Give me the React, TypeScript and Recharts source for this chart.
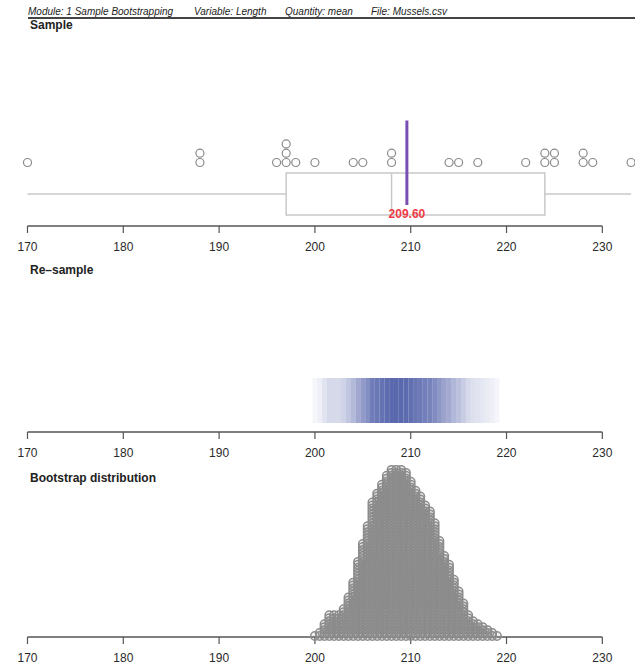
import React from 'react';
import { ScatterChart, Scatter, XAxis, YAxis, ReferenceLine, ReferenceArea } from 'recharts';

// header strings
const headerItems = ['Module: 1 Sample Bootstrapping', 'Variable: Length', 'Quantity: mean', 'File: Mussels.csv'];
const panelTitles = ['Sample', 'Re\u2013sample', 'Bootstrap distribution'];

// sample lengths (Mussels.csv)
const sampleLengths = [
  170, 188, 188, 196, 197, 197, 197, 198, 200, 204, 205, 208, 208,
  214, 215, 217, 222, 224, 224, 225, 225, 228, 228, 229, 233,
];

const axisTicks = [170, 180, 190, 200, 210, 220, 230];

// bootstrap means, binned: bin centre and how many means fall in it
const bootBins = [
  200, 200.5, 201, 201.5, 202, 202.5, 203, 203.5, 204, 204.5, 205, 205.5, 206, 206.5,
  207, 207.5, 208, 208.5, 209, 209.5, 210, 210.5, 211, 211.5, 212, 212.5, 213, 213.5,
  214, 214.5, 215, 215.5, 216, 216.5, 217, 217.5, 218, 218.5, 219,
];
const bootCounts = [
  1, 2, 5, 8, 8, 8, 10, 14, 19, 26, 32, 38, 46, 49,
  52, 55, 57, 57, 57, 56, 53, 50, 48, 45, 43, 39, 33, 28,
  25, 20, 16, 12, 8, 6, 5, 4, 3, 2, 1,
];

const FONT = '"Liberation Sans", Arial, Helvetica, sans-serif';
const W = 635;
const X_MIN = 167.13;
const X_MAX = 233.41;

// layout of the sample panel (y measured upward from the axis line)
const DOT_BASE = 63.5;
const DOT_STEP = 9.3;
const BOX_LO = 11;
const BOX_HI = 53;
const WHISKER_Y = 32;
const MEAN_LO = 21;
const MEAN_HI = 105.5;
const MEAN_LABEL_Y = 12.5;
// re-sample band
const BAND_LO = 9;
const BAND_HI = 54;

const sorted = [...sampleLengths].sort((a, b) => a - b);
const n = sorted.length;
const mean = sorted.reduce((s, v) => s + v, 0) / n;
const medianOf = (arr: number[]) => {
  const m = arr.length;
  return m % 2 ? arr[(m - 1) / 2] : (arr[m / 2 - 1] + arr[m / 2]) / 2;
};
const half = Math.floor((n + 1) / 2);
const q1 = medianOf(sorted.slice(0, half));
const q3 = medianOf(sorted.slice(n - half));
const med = medianOf(sorted);
const iqr = q3 - q1;
const whiskLo = sorted.find((v) => v >= q1 - 1.5 * iqr) as number;
const whiskHi = [...sorted].reverse().find((v) => v <= q3 + 1.5 * iqr) as number;

const seen: Record<number, number> = {};
const sampleDots = sorted.map((v) => {
  const k = seen[v] ?? 0;
  seen[v] = k + 1;
  return { x: v, y: DOT_BASE + k * DOT_STEP };
});

const bootDots = bootBins.flatMap((b, i) =>
  Array.from({ length: bootCounts[i] }, (_, k) => ({ x: b, y: k }))
);
const maxCount = Math.max(...bootCounts);

const Circle = (props: any) => (
  <circle cx={props.cx} cy={props.cy} r={4} fill="none" stroke="#8a8a8a" strokeWidth={1.2} />
);
const BootCircle = (props: any) => (
  <circle cx={props.cx} cy={props.cy} r={4.2} fill="#8c8c8c" fillOpacity={0.12} stroke="#8c8c8c" strokeWidth={1.5} />
);

const axisProps = {
  type: 'number' as const,
  dataKey: 'x',
  domain: [X_MIN, X_MAX],
  ticks: axisTicks,
  interval: 0 as const,
  axisLine: false,
  tickSize: 7,
  tickMargin: 9,
  tickLine: { stroke: '#555', strokeWidth: 1.2 },
  tick: { fontSize: 12, fill: '#2a2a2a', fontFamily: FONT },
  height: 30,
};

const AxisLine = ({ y }: { y: number }) => (
  <ReferenceLine
    segment={[{ x: axisTicks[0], y }, { x: axisTicks[axisTicks.length - 1], y }]}
    stroke="#555"
    strokeWidth={1.3}
  />
);

const Title = ({ text, top }: { text: string; top: number }) => (
  <div style={{ position: 'absolute', left: 30, top, fontFamily: FONT, fontWeight: 'bold', fontSize: 12, lineHeight: '12px', color: '#222' }}>
    {text}
  </div>
);

export default function App() {
  return (
    <div style={{ position: 'absolute', left: 0, top: 0, width: W, height: 667, overflow: 'hidden', background: '#fff' }}>
      {headerItems.map((h, i) => (
        <div
          key={h}
          style={{ position: 'absolute', left: [28, 194, 285, 371][i], top: 7, fontFamily: FONT, fontStyle: 'italic', fontSize: 10, lineHeight: '10px', color: '#222', whiteSpace: 'nowrap' }}
        >
          {h}
        </div>
      ))}
      <div style={{ position: 'absolute', left: 28, top: 17, width: W - 28, height: 1.5, background: '#444' }} />

      <Title text={panelTitles[0]} top={19} />
      <Title text={panelTitles[1]} top={264} />
      <Title text={panelTitles[2]} top={472} />

      {/* Sample */}
      <div style={{ position: 'absolute', left: 0, top: 100 }}>
        <ScatterChart width={W} height={156} margin={{ top: 0, right: 0, bottom: 0, left: 0 }}>
          <XAxis {...axisProps} />
          <YAxis type="number" dataKey="y" domain={[0, 126]} hide />
          <ReferenceArea x1={q1} x2={q3} y1={BOX_LO} y2={BOX_HI} fill="none" stroke="#c8c8c8" strokeWidth={1.5} />
          <ReferenceLine segment={[{ x: med, y: BOX_LO }, { x: med, y: BOX_HI }]} stroke="#c8c8c8" strokeWidth={1.5} />
          <ReferenceLine segment={[{ x: whiskLo, y: WHISKER_Y }, { x: q1, y: WHISKER_Y }]} stroke="#c8c8c8" strokeWidth={1.5} />
          <ReferenceLine segment={[{ x: q3, y: WHISKER_Y }, { x: whiskHi, y: WHISKER_Y }]} stroke="#c8c8c8" strokeWidth={1.5} />
          <AxisLine y={0} />
          <Scatter data={sampleDots} shape={Circle} isAnimationActive={false} />
          <ReferenceLine segment={[{ x: mean, y: MEAN_LO }, { x: mean, y: MEAN_HI }]} stroke="#7a4fb3" strokeWidth={3} />
          <Scatter
            data={[{ x: mean, y: MEAN_LABEL_Y }]}
            isAnimationActive={false}
            shape={(p: any) => (
              <text x={p.cx} y={p.cy + 4.5} textAnchor="middle" fontFamily={FONT} fontSize={12} fontWeight="bold" fill="#f03a46">
                {mean.toFixed(2)}
              </text>
            )}
          />
        </ScatterChart>
      </div>

      {/* Re-sample */}
      <div style={{ position: 'absolute', left: 0, top: 370 }}>
        <ScatterChart width={W} height={92} margin={{ top: 0, right: 0, bottom: 0, left: 0 }}>
          <XAxis {...axisProps} />
          <YAxis type="number" dataKey="y" domain={[0, 62]} hide />
          {bootBins.map((b, i) => (
            <ReferenceArea
              key={b}
              x1={b - 0.25}
              x2={b + 0.25}
              y1={BAND_LO}
              y2={BAND_HI}
              fill="#3d4e9f"
              fillOpacity={Math.pow(bootCounts[i] / maxCount, 0.7) * 0.85}
              stroke="none"
            />
          ))}
          <AxisLine y={0} />
          <Scatter
            data={bootBins.map((b) => ({ x: b, y: (BAND_LO + BAND_HI) / 2 }))}
            isAnimationActive={false}
            shape={() => <g />}
          />
        </ScatterChart>
      </div>

      {/* Bootstrap distribution */}
      <div style={{ position: 'absolute', left: 0, top: 458 }}>
        <ScatterChart width={W} height={209} margin={{ top: 0, right: 0, bottom: 0, left: 0 }}>
          <XAxis {...axisProps} />
          <YAxis type="number" dataKey="y" domain={[-1 / 3, 60]} hide />
          <AxisLine y={-1 / 3} />
          <Scatter data={bootDots} shape={BootCircle} isAnimationActive={false} />
        </ScatterChart>
      </div>
    </div>
  );
}
